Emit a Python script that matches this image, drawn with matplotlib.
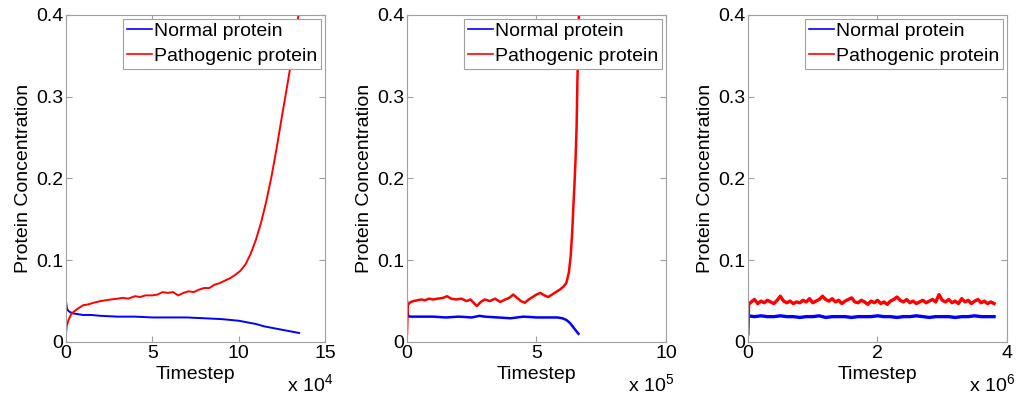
import matplotlib
matplotlib.use("Agg")
import matplotlib.pyplot as plt

plt.rcParams["font.family"] = ["Liberation Sans", "DejaVu Sans"]
plt.rcParams["mathtext.fontset"] = "custom"
plt.rcParams["mathtext.rm"] = "Liberation Sans"
plt.rcParams["font.size"] = 14

# panel 1, timestep in units of 1e4
x1_path = [0, 0.05, 0.15, 0.3, 0.45, 0.7, 1.0, 1.3, 1.6, 2.0, 2.3, 2.6, 3.0, 3.3, 3.6, 4.0,
           4.3, 4.6, 5.0, 5.3, 5.6, 5.9, 6.2, 6.5, 6.8, 7.1, 7.4, 7.7, 8.0, 8.3, 8.6, 8.9,
           9.2, 9.5, 9.8, 10.1, 10.4, 10.7, 11.0, 11.3, 11.6, 11.9, 12.2, 12.5, 12.8, 13.1,
           13.4, 13.6]
y1_path = [0.010, 0.020, 0.027, 0.034, 0.037, 0.041, 0.045, 0.046, 0.048, 0.050, 0.051, 0.052,
           0.053, 0.054, 0.053, 0.056, 0.055, 0.057, 0.057, 0.058, 0.061, 0.060, 0.061, 0.057,
           0.060, 0.062, 0.061, 0.064, 0.066, 0.066, 0.070, 0.072, 0.075, 0.078, 0.082, 0.087,
           0.095, 0.108, 0.125, 0.146, 0.172, 0.202, 0.237, 0.275, 0.312, 0.350, 0.390, 0.420]
x1_norm = [0, 0.05, 0.1, 0.2, 0.4, 0.7, 1.0, 1.5, 2.0, 3.0, 4.0, 5.0, 6.0, 7.0, 8.0, 9.0,
           9.5, 10.0, 10.5, 11.0, 11.5, 12.0, 12.5, 13.0, 13.5]
y1_norm = [0.050, 0.042, 0.039, 0.037, 0.035, 0.034, 0.033, 0.033, 0.032, 0.031, 0.031, 0.030,
           0.030, 0.030, 0.029, 0.028, 0.027, 0.026, 0.024, 0.022, 0.019, 0.017, 0.015, 0.013,
           0.011]

# panel 2, timestep in units of 1e5
x2_path = [0, 0.03, 0.08, 0.15, 0.25, 0.4, 0.55, 0.7, 0.85, 1.0, 1.2, 1.4, 1.55, 1.7, 1.9,
           2.1, 2.3, 2.45, 2.6, 2.7, 2.85, 3.0, 3.2, 3.4, 3.6, 3.8, 3.95, 4.1, 4.25, 4.4,
           4.55, 4.7, 4.85, 5.0, 5.15, 5.3, 5.45, 5.6, 5.75, 5.9, 6.05, 6.15, 6.25, 6.32,
           6.38, 6.43, 6.47, 6.51, 6.55, 6.58, 6.62, 6.65]
y2_path = [0.010, 0.045, 0.047, 0.049, 0.050, 0.051, 0.052, 0.051, 0.053, 0.052, 0.053, 0.054,
           0.056, 0.053, 0.052, 0.053, 0.050, 0.052, 0.047, 0.044, 0.049, 0.052, 0.050, 0.053,
           0.049, 0.052, 0.054, 0.058, 0.054, 0.050, 0.048, 0.052, 0.055, 0.058, 0.060, 0.057,
           0.055, 0.058, 0.061, 0.064, 0.068, 0.072, 0.085, 0.105, 0.135, 0.170, 0.195, 0.225,
           0.265, 0.320, 0.370, 0.420]
x2_norm = [0, 0.03, 0.1, 0.5, 1.0, 1.5, 2.0, 2.5, 2.8, 3.0, 3.5, 4.0, 4.5, 5.0, 5.5, 5.8,
           6.0, 6.15, 6.3, 6.42, 6.52, 6.62]
y2_norm = [0.050, 0.033, 0.031, 0.031, 0.031, 0.030, 0.031, 0.030, 0.032, 0.031, 0.030, 0.029,
           0.031, 0.030, 0.030, 0.030, 0.029, 0.027, 0.023, 0.018, 0.014, 0.010]

# panel 3, timestep in units of 1e6
x3_path = [0, 0.01, 0.05, 0.10, 0.15, 0.20, 0.25, 0.30, 0.35, 0.40, 0.45, 0.50, 0.55, 0.60,
           0.65, 0.70, 0.75, 0.80, 0.85, 0.90, 0.95, 1.00, 1.05, 1.10, 1.15, 1.20, 1.25,
           1.30, 1.35, 1.40, 1.45, 1.50, 1.55, 1.60, 1.65, 1.70, 1.75, 1.80, 1.85, 1.90,
           1.95, 2.00, 2.05, 2.10, 2.15, 2.20, 2.25, 2.30, 2.35, 2.40, 2.45, 2.50, 2.55,
           2.60, 2.65, 2.70, 2.75, 2.80, 2.85, 2.90, 2.95, 3.00, 3.05, 3.10, 3.15, 3.20,
           3.25, 3.30, 3.35, 3.40, 3.45, 3.50, 3.55, 3.60, 3.65, 3.70, 3.75, 3.80]
y3_path = [0.010, 0.046, 0.049, 0.052, 0.047, 0.050, 0.048, 0.051, 0.049, 0.047, 0.051, 0.056,
           0.050, 0.048, 0.050, 0.047, 0.049, 0.048, 0.051, 0.049, 0.053, 0.048, 0.050, 0.052,
           0.056, 0.052, 0.050, 0.053, 0.049, 0.051, 0.047, 0.050, 0.052, 0.054, 0.049, 0.048,
           0.051, 0.049, 0.046, 0.050, 0.048, 0.051, 0.047, 0.049, 0.046, 0.050, 0.052, 0.055,
           0.051, 0.049, 0.052, 0.048, 0.050, 0.047, 0.049, 0.051, 0.048, 0.050, 0.052, 0.049,
           0.058, 0.051, 0.049, 0.052, 0.048, 0.050, 0.047, 0.053, 0.049, 0.051, 0.047, 0.050,
           0.052, 0.048, 0.050, 0.047, 0.049, 0.047]
x3_norm = [0, 0.1, 0.2, 0.3, 0.4, 0.5, 0.6, 0.7, 0.8, 0.9, 1.0, 1.1, 1.2, 1.3, 1.4,
           1.5, 1.6, 1.7, 1.8, 1.9, 2.0, 2.1, 2.2, 2.3, 2.4, 2.5, 2.6, 2.7, 2.8, 2.9, 3.0,
           3.1, 3.2, 3.3, 3.4, 3.5, 3.6, 3.7, 3.8]
y3_norm = [0.032, 0.031, 0.032, 0.031, 0.031, 0.032, 0.031, 0.031, 0.030, 0.031, 0.031,
           0.032, 0.030, 0.031, 0.031, 0.031, 0.030, 0.031, 0.031, 0.031, 0.032, 0.031, 0.031,
           0.030, 0.031, 0.031, 0.032, 0.031, 0.030, 0.031, 0.031, 0.031, 0.030, 0.031, 0.031,
           0.032, 0.031, 0.031, 0.031]

panels = [
    (x1_norm, y1_norm, x1_path, y1_path, 15, [0, 5, 10, 15], 4, 1.4),
    (x2_norm, y2_norm, x2_path, y2_path, 10, [0, 5, 10], 5, 1.8),
    (x3_norm, y3_norm, x3_path, y3_path, 4, [0, 2, 4], 6, 2.4),
]
lefts = [0.0646, 0.3986, 0.7326]

grey = "#a0a0a0"
fig = plt.figure(figsize=(10.21, 3.96), dpi=100)

for left, (xn, yn, xp, yp, xmax, xt, expo, lw) in zip(lefts, panels):
    ax = fig.add_axes([left, 0.1364, 0.2537, 0.826])
    ax.plot(xn, yn, color="#0000ff", lw=lw, label="Normal protein")
    ax.plot(xp, yp, color="#ff0000", lw=lw, label="Pathogenic protein")
    ax.set_xlim(0, xmax)
    ax.set_ylim(0, 0.4)
    ax.set_xticks(xt)
    ax.set_yticks([0, 0.1, 0.2, 0.3, 0.4])
    ax.set_yticklabels(["0", "0.1", "0.2", "0.3", "0.4"])
    for s in ax.spines.values():
        s.set_color(grey)
        s.set_linewidth(0.8)
    ax.tick_params(direction="in", top=True, right=True, length=4, color=grey,
                   labelcolor="black", pad=2)
    ax.set_xlabel("Timestep", labelpad=3)
    ax.set_ylabel("Protein Concentration", labelpad=3)
    ax.text(1.03, -0.165, r"x 10$^{%d}$" % expo, transform=ax.transAxes,
            ha="right", va="bottom")
    leg = ax.legend(loc="upper right", borderaxespad=0.2, borderpad=0.2,
                    handlelength=1.3, handletextpad=0.1, labelspacing=0.35,
                    fancybox=False, framealpha=1, fontsize=14)
    for h in leg.legend_handles:
        h.set_linewidth(1.2)
    leg.get_frame().set_edgecolor(grey)
    leg.get_frame().set_linewidth(0.8)

fig.savefig("out.png", dpi=100)
